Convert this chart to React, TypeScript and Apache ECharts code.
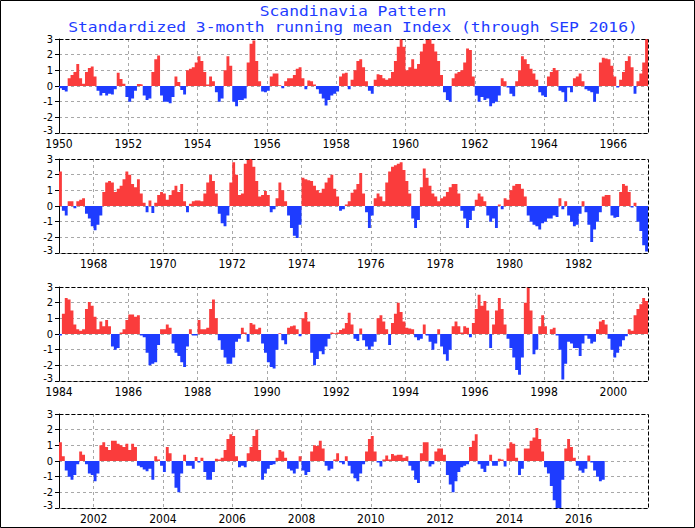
import React, { useEffect, useRef } from 'react';
import * as echarts from 'echarts';

const TITLE_1 = 'Scandinavia Pattern';
const TITLE_2 = 'Standardized 3-month running mean Index (through SEP 2016)';

// First year of each panel; every panel spans 17 years (204 months)
const PANEL_START_YEARS = [1950, 1967, 1984, 2001];
const MONTHS_PER_PANEL = 204;
const Y_MIN = -3;
const Y_MAX = 3;

// Monthly index values, Jan 1950 - Dec 1966
const PANEL_1 = [
  -0.15, -0.25, -0.35, 0.5, 0.7, 0.9, 1.4, 0.5, 0.15, 0.9, 1.15, 1.25,
  0.6, -0.3, -0.6, -0.45, -0.6, -0.5, -0.55, -0.2, 0.85, 0.45, 0.15, -0.7,
  -1.0, -0.8, -0.3, 0.12, 0.1, -0.6, -0.9, -0.8, 0.9, 1.7, 1.95, -0.6,
  -1.0, -1.0, -1.1, -0.7, 0.6, 0.25, -0.25, -0.55, 1.0, 1.1, 1.2, 1.5,
  1.9, 1.6, 0.9, 0.1, 0.6, 0.3, -0.4, -1.0, -0.8, 1.0, 1.9, 1.3,
  -1.0, -1.3, -0.9, -0.9, -0.8, 1.5, 2.7, 2.9, 1.6, 0.3, -0.35, -0.4,
  -0.3, 0.6, 0.8, 0.8, 0.05, -0.15, 0.3, 0.5, 0.5, 0.7, 1.1, 1.2,
  0.5, -0.2, 0.35, 0.3, 0.1, -0.2, -0.5, -0.8, -1.25, -0.9, -0.6, -0.5,
  -0.35, 0.6, 0.8, 0.85, -0.2, 0.4, 1.0, 1.6, 1.7, 1.2, 0.3, -0.3,
  -0.5, 0.4, 0.75, 0.7, 0.5, 0.4, 0.5, 0.9, 1.6, 2.5, 3.0, 2.5,
  1.0, 1.2, 1.7, 1.1, 1.4, 2.2, 2.7, 3.0, 3.0, 2.7, 2.2, 1.6,
  0.7, -0.4, -0.9, -1.0, 0.5, 0.8, 0.9, 1.0, 1.5, 2.4, 2.3, 0.6,
  -0.6, -1.0, -0.7, -0.9, -0.8, -1.3, -1.1, -1.0, -0.6, 0.5, 0.3, -0.1,
  -0.5, -0.65, 0.3, 1.0, 1.9, 1.7, 1.4, 1.1, 0.8, 0.4, -0.4, -0.6,
  -0.7, 0.6, 0.9, 1.15, 1.0, -0.3, -0.4, -1.0, -0.1, -0.4, 0.5, 0.6,
  0.8, 0.3, -0.2, -0.3, -0.4, -1.0, -0.5, 1.5, 1.8, 1.75, 1.7, 1.3,
  0.6, -0.1, 0.4, 0.9, 1.6, 1.9, 1.2, -0.5, 0.3, 0.8, 1.5, 3.0,
];

// Jan 1967 - Dec 1983
const PANEL_2 = [
  2.2, -0.3, -0.6, 0.3, 0.3, -0.15, 0.3, 0.4, 0.5, -0.5, -0.8, -1.3,
  -1.55, -1.2, -0.6, 0.9, 1.5, 1.6, 1.5, 0.9, 1.1, 1.3, 1.7, 2.2,
  2.0, 1.4, 1.2, 1.7, 0.8, 0.2, -0.4, 0.35, -0.45, 0.2, 0.7, 0.9,
  0.8, 0.4, 0.7, 1.0, 1.3, 0.9, 1.4, 0.3, -0.4, 0.15, 0.3, 0.35,
  0.35, 0.3, 0.8, 1.5, 2.0, 1.6, 0.8, -0.5, -1.1, -1.3, -0.6, 1.5,
  2.8, 2.0, 0.7, 0.8, 2.7, 3.0, 3.0, 2.5, 1.6, 0.6, 0.7, 0.95,
  0.7, -0.4, -0.2, 0.5, 1.5, 1.0, 0.3, -0.6, -1.4, -1.9, -2.05, -1.2,
  1.8, 1.7, 1.65, 1.6, 1.3, 1.0, 0.85, 1.1, 1.5, 1.8, 2.0, 1.1,
  0.6, -0.3, -0.2, 0.1, 0.3, 0.85, 1.05, 1.4, 2.1, 0.8, -0.4, -1.4,
  -0.6, 0.5, 0.8, 0.6, 0.3, 1.5, 2.2, 2.5, 2.6, 2.7, 2.8, 2.3,
  1.6, 0.8, -0.8, -1.4, -0.9, 1.2, 2.4, 1.8, 1.3, 0.8, 0.6, 0.3,
  0.5, 0.6, 0.9, 1.2, 1.4, 1.4, 0.8, -0.3, -0.8, -1.4, -0.9, -0.3,
  0.4, 0.8, 0.6, 0.3, -0.6, -1.0, -0.8, -1.4, 0.1, -0.2, 0.5, 0.4,
  1.0, 1.3, 1.4, 1.4, 1.1, 0.6, -0.6, -1.0, -1.2, -1.3, -1.5, -1.1,
  -1.0, -0.8, -0.8, -0.6, -0.7, 0.5, -0.2, 0.3, -0.6, -1.0, -1.3, -1.2,
  -0.5, 0.3, -0.4, -1.2, -2.3, -1.5, -1.0, -0.4, 0.6, 0.7, 0.7, -0.6,
  -0.75, -0.7, 0.9, 1.4, 1.3, 0.9, -0.1, 0.2, -1.0, -1.6, -2.5, -2.9,
];

// Jan 1984 - Dec 2000
const PANEL_3 = [
  -0.1, 1.3, 2.3, 2.2, 1.5, 0.6, 0.3, 0.2, 0.3, 1.6, 2.05, 1.8,
  1.1, 0.3, 0.8, 0.5, 0.9, 0.5, -0.8, -1.0, -0.9, 0.1, 0.3, 0.9,
  1.25, 1.25, 1.1, 1.2, -0.1, -0.2, -1.2, -2.0, -1.9, -1.8, -0.7, 0.3,
  0.3, 0.6, 0.4, -0.6, -1.2, -1.4, -1.8, -2.1, -0.8, 0.3, -0.1, -0.1,
  0.9, 0.3, 0.3, 0.4, 1.6, 2.2, 1.0, -0.4, -1.0, -1.5, -1.9, -1.9,
  -1.5, -0.5, -0.3, 0.4, 0.1, -0.5, 0.7, 0.6, 0.3, 0.4, -0.6, -1.2,
  -1.8, -2.1, -2.2, -1.0, 0.05, -0.4, -0.65, 0.4, 0.5, 0.55, 0.3, -0.15,
  1.0, 1.4, 0.8, -1.2, -2.0, -1.6, -1.1, -1.3, -0.8, -0.3, 0.1, 0.05,
  0.1, 0.25, 0.35, 0.7, 1.35, 0.6, -0.3, -0.45, 0.35, -0.4, -0.8, -1.0,
  -0.8, -0.5, 1.0, 1.2, 0.8, 0.3, -0.7, 0.7, 1.3, 2.0, 1.4, 0.8,
  0.4, 0.35, 0.3, -0.2, -0.4, -0.3, 0.6, -0.1, -0.5, -1.0, -0.6, 0.3,
  -0.8, -1.3, -1.7, -1.0, 0.5, 0.8, 0.5, 0.1, 0.5, 0.4, -0.2, 0.7,
  1.6, 2.5, 1.8, 2.1, 1.5, -0.9, 0.6, 1.5, 2.3, 1.6, 0.6, -0.3,
  -0.9, -1.5, -2.3, -2.6, -1.5, 2.0, 3.0, 1.5, -1.3, -1.0, 0.5, 1.2,
  0.5, 0.0, 0.3, 0.4, -0.1, -1.0, -2.9, -1.9, -0.5, -0.6, -0.9, -0.9,
  -1.4, -0.6, -0.1, -0.3, -0.6, -0.5, 0.3, 0.8, 0.9, 0.6, -0.3, -1.0,
  -1.5, -1.2, -0.8, -0.4, -0.15, 0.3, 0.2, 1.2, 1.6, 1.9, 2.3, 2.1,
];

// Jan 2001 - Sep 2016
const PANEL_4 = [
  1.2, 0.3, -0.6, -1.0, -1.2, -0.9, -0.2, 0.6, 0.4, -0.2, -0.8, -0.9,
  -1.3, -0.8, 1.0, 1.2, 0.9, 0.7, 1.3, 1.3, 1.1, 1.0, 0.9, 1.1,
  0.7, 1.1, 0.9, -0.3, -0.4, -0.55, -0.65, -0.5, -1.2, 0.3, 0.1, -0.3,
  -0.7, 0.9, 0.5, -0.8, -1.7, -2.0, -0.8, 0.4, -0.3, -0.3, -0.5, 0.25,
  -0.1, 0.2, -0.7, -1.2, -1.2, -0.7, 0.15, 0.1, 0.2, 0.7, 1.4, 1.7,
  1.6, 0.3, -0.4, -0.3, -0.4, 0.5, 0.9, 1.6, 2.0, 0.7, -1.2, -0.8,
  -0.5, -0.25, -0.2, 0.2, 0.7, 0.6, 0.2, -0.5, -0.6, -0.8, -0.5, 0.3,
  -0.6, -0.9, -0.7, 0.6, 1.0, 0.95, 1.3, 0.8, -0.3, -0.6, -0.5, 0.1,
  0.5, -0.1, -0.2, 0.3, -0.3, -0.8, -1.1, -1.3, -0.8, -0.2, 0.6, 1.4,
  1.6, 0.6, -0.1, -0.35, 0.1, 0.35, 0.1, 0.45, 0.35, 0.4, 0.4, 0.2,
  0.3, -0.3, -0.6, -1.2, -1.4, 0.5, 1.2, 1.2, -0.35, -0.2, 0.6, 0.8,
  0.8, 0.4, -0.9, -1.5, -2.0, -1.3, -0.7, -0.4, -0.3, -0.2, 0.9, 1.3,
  1.7, -0.2, -0.5, -0.7, -0.3, 0.4, -0.3, -0.3, 0.15, 0.1, -0.35, 0.8,
  1.2, 1.1, 0.2, -0.9, -0.5, 0.8, 0.8, 1.3, 1.5, 2.1, 1.4, 0.6,
  -0.4, -0.8, -1.6, -2.5, -3.0, -3.0, -1.2, 0.8, 1.4, 0.9, 0.2, -0.3,
  -0.6, -0.75, -0.5, 0.35, -0.1, -0.6, -1.0, -1.3, -1.2,
];

const PANELS = [PANEL_1, PANEL_2, PANEL_3, PANEL_4];

// Layout / style
const W = 695;
const H = 528;
const GRID_LEFT = 59;
const GRID_WIDTH = 589;
const GRID_TOPS = [39, 159, 287, 414];
const GRID_HEIGHT = 94;
const RED = '#fa3c3c';
const BLUE = '#1e3cff';
const GRID_GRAY = '#a8a8a8';
const LABEL_FONT = "'Liberation Sans Narrow', 'DejaVu Sans Condensed', 'Liberation Sans', sans-serif";
const TITLE_FONT = "'DejaVu Sans Mono', 'Liberation Mono', monospace";

// Month boundaries (0..204) of a panel, labelled "year-month"
function monthBoundaries(startYear: number): string[] {
  const out: string[] = [];
  for (let i = 0; i <= MONTHS_PER_PANEL; i++) {
    out.push(`${startYear + Math.floor(i / 12)}-${(i % 12) + 1}`);
  }
  return out;
}

function stepArea(data: number[], color: string, xi: number) {
  return {
    type: 'line',
    xAxisIndex: xi,
    yAxisIndex: xi,
    silent: true,
    step: 'end',
    showSymbol: false,
    symbol: 'none',
    lineStyle: { width: 0, opacity: 0 },
    areaStyle: { color, opacity: 1 },
    data,
  };
}

export default function App() {
  const ref = useRef<HTMLDivElement>(null);

  useEffect(() => {
    if (!ref.current) return;
    const chart = echarts.init(ref.current, undefined, { renderer: 'svg', width: W, height: H });

    const grid: any[] = [];
    const xAxis: any[] = [];
    const yAxis: any[] = [];
    const series: any[] = [];
    const graphic: any[] = [];

    PANELS.forEach((vals, i) => {
      const startYear = PANEL_START_YEARS[i];
      const isYearTick = (idx: number) =>
        idx % 12 === 0 && idx < MONTHS_PER_PANEL && (startYear + idx / 12) % 2 === 0;

      grid.push({ left: GRID_LEFT, top: GRID_TOPS[i], width: GRID_WIDTH, height: GRID_HEIGHT, containLabel: false });

      xAxis.push({
        type: 'category',
        gridIndex: i,
        data: monthBoundaries(startYear),
        boundaryGap: false,
        axisLine: { show: false },
        axisTick: { show: false },
        axisLabel: {
          interval: (idx: number) => isYearTick(idx),
          formatter: (v: string) => v.split('-')[0],
          color: '#000',
          fontSize: 12,
          lineHeight: 10,
          fontFamily: LABEL_FONT,
          margin: 6,
        },
        splitLine: {
          show: true,
          interval: (idx: number) => isYearTick(idx) && idx !== 0,
          lineStyle: { color: GRID_GRAY, type: [3, 3], width: 1 },
        },
      });

      yAxis.push({
        type: 'value',
        gridIndex: i,
        min: Y_MIN,
        max: Y_MAX,
        interval: 1,
        axisLine: { show: true, lineStyle: { color: '#000', width: 1 } },
        axisTick: { show: true, inside: false, length: 4, lineStyle: { color: '#000' } },
        axisLabel: {
          color: '#000',
          fontSize: 11,
          lineHeight: 10,
          fontFamily: LABEL_FONT,
          margin: 6,
          formatter: (v: number) => (v === Y_MIN ? `{low|${v}}` : `${v}`),
          rich: {
            low: {
              color: '#000',
              fontSize: 11,
              lineHeight: 10,
              fontFamily: LABEL_FONT,
              padding: [0, 0, 5, 0],
            },
          },
        },
        splitLine: { show: true, lineStyle: { color: GRID_GRAY, type: [3, 3], width: 1 } },
      });

      // each month value spans [m, m+1]; the last value also closes the final step
      const stepData = [...vals, vals[vals.length - 1]];
      series.push(stepArea(stepData.map((v) => Math.max(v, 0)), RED, i));
      series.push(stepArea(stepData.map((v) => Math.min(v, 0)), BLUE, i));

      const L = GRID_LEFT + 0.5;
      const R = GRID_LEFT + GRID_WIDTH + 0.5;
      const T = GRID_TOPS[i] + 0.5;
      const B = GRID_TOPS[i] + GRID_HEIGHT + 0.5;
      graphic.push({
        type: 'polyline',
        z: 100,
        silent: true,
        shape: { points: [[L, T], [R, T], [R, B], [L, B]] },
        style: { stroke: '#000', lineWidth: 1, lineDash: [4, 2], fill: null },
      });
    });

    graphic.push({
      type: 'rect',
      z: 100,
      silent: true,
      shape: { x: 0.5, y: 0.5, width: W - 1, height: H - 1 },
      style: { stroke: '#000', lineWidth: 1, fill: null },
    });
    [TITLE_1, TITLE_2].forEach((t, k) => {
      graphic.push({
        type: 'text',
        x: 353,
        y: k === 0 ? 11 : 27.5,
        scaleX: 1.02,
        scaleY: 0.88,
        style: {
          text: t,
          fill: BLUE,
          font: `16px ${TITLE_FONT}`,
          textAlign: 'center',
          textVerticalAlign: 'middle',
        },
      });
    });

    chart.setOption({
      animation: false,
      backgroundColor: '#fff',
      grid,
      xAxis,
      yAxis,
      series,
      graphic,
    });

    return () => chart.dispose();
  }, []);

  return (
    <div
      ref={ref}
      style={{ position: 'absolute', left: 0, top: 0, width: W, height: H }}
    />
  );
}
